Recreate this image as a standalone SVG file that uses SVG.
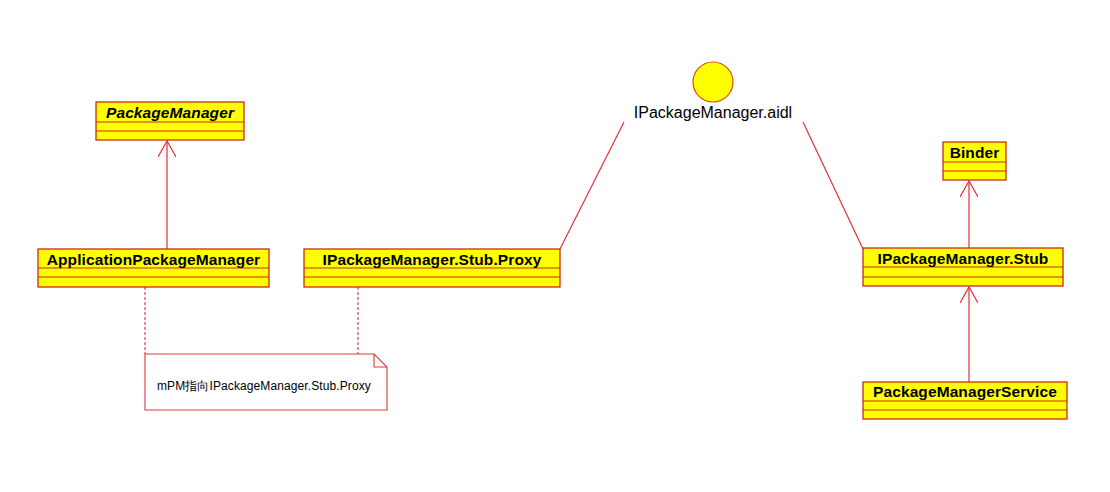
<svg xmlns="http://www.w3.org/2000/svg" width="1110" height="492" viewBox="0 0 1110 492">
<style>
.box{fill:#FFFF00;stroke:#CC2A1A;stroke-width:1.3}
.div{stroke:#CC2A1A;stroke-width:1.2;fill:none}
.cn{font-family:"Liberation Sans",Arial,sans-serif;font-weight:bold;font-size:15.5px;fill:#000;text-anchor:middle;letter-spacing:0.1px}
.ln{stroke:#E0303A;stroke-width:1.2;fill:none}
.dash{stroke:#E0303A;stroke-width:1.1;fill:none;stroke-dasharray:3,2}
.lbl{font-family:"Liberation Sans",Arial,sans-serif;fill:#000}
</style>
<defs>
<marker id="open" markerWidth="22" markerHeight="18" refX="20" refY="9" orient="auto" markerUnits="userSpaceOnUse">
<path d="M4,0 L20,9 L4,18" fill="none" stroke="#E0303A" stroke-width="1.2"/>
</marker>
</defs>
<rect width="1110" height="492" fill="#FFFFFF"/>

<g id="connectors">
<line class="ln" x1="167" y1="249" x2="167" y2="141" marker-end="url(#open)"/>
<line class="ln" x1="969" y1="248" x2="969" y2="181" marker-end="url(#open)"/>
<line class="ln" x1="969" y1="382" x2="969" y2="287" marker-end="url(#open)"/>
<line class="ln" x1="624" y1="122" x2="560" y2="249"/>
<line class="ln" x1="803" y1="122" x2="863" y2="249"/>
<line class="dash" x1="145" y1="287" x2="145" y2="354"/>
<line class="dash" x1="358" y1="287" x2="358" y2="354"/>
</g>

<g id="PackageManager">
<rect class="box" x="96" y="102" width="148" height="38"/>
<line class="div" x1="96" y1="122" x2="244" y2="122"/>
<line class="div" x1="96" y1="131" x2="244" y2="131"/>
<text class="cn" x="170" y="118" font-style="italic">PackageManager</text>
</g>

<g id="ApplicationPackageManager">
<rect class="box" x="38" y="249" width="231" height="38"/>
<line class="div" x1="38" y1="268" x2="269" y2="268"/>
<line class="div" x1="38" y1="277" x2="269" y2="277"/>
<text class="cn" x="153.5" y="265">ApplicationPackageManager</text>
</g>

<g id="Proxy">
<rect class="box" x="304" y="249" width="256" height="38"/>
<line class="div" x1="304" y1="268" x2="560" y2="268"/>
<line class="div" x1="304" y1="277" x2="560" y2="277"/>
<text class="cn" x="432" y="265">IPackageManager.Stub.Proxy</text>
</g>

<g id="aidl">
<circle cx="713" cy="82" r="20" fill="#FFFF00" stroke="#D8500A" stroke-width="1.2"/>
<text class="lbl" x="713" y="118" font-size="16" text-anchor="middle">IPackageManager.aidl</text>
</g>

<g id="Binder">
<rect class="box" x="943" y="142" width="63" height="38"/>
<line class="div" x1="943" y1="162" x2="1006" y2="162"/>
<line class="div" x1="943" y1="171" x2="1006" y2="171"/>
<text class="cn" x="974.5" y="158">Binder</text>
</g>

<g id="Stub">
<rect class="box" x="863" y="248" width="200" height="38"/>
<line class="div" x1="863" y1="267" x2="1063" y2="267"/>
<line class="div" x1="863" y1="277" x2="1063" y2="277"/>
<text class="cn" x="963" y="264">IPackageManager.Stub</text>
</g>

<g id="PackageManagerService">
<rect class="box" x="863" y="382" width="204" height="37"/>
<line class="div" x1="863" y1="401" x2="1067" y2="401"/>
<line class="div" x1="863" y1="410" x2="1067" y2="410"/>
<text class="cn" x="965" y="397">PackageManagerService</text>
</g>

<g id="note">
<path d="M145,354 L374,354 L387,367 L387,410 L145,410 Z" fill="#FFFFFF" stroke="#D83A3A" stroke-width="1.1"/>
<path d="M374,354 L374,367 L387,367" fill="none" stroke="#D83A3A" stroke-width="1.1"/>
<text class="lbl" x="157" y="390" font-size="12" letter-spacing="0.1" font-family="'Liberation Sans','Noto Sans CJK SC',sans-serif">mPM指向IPackageManager.Stub.Proxy</text>
</g>
</svg>
